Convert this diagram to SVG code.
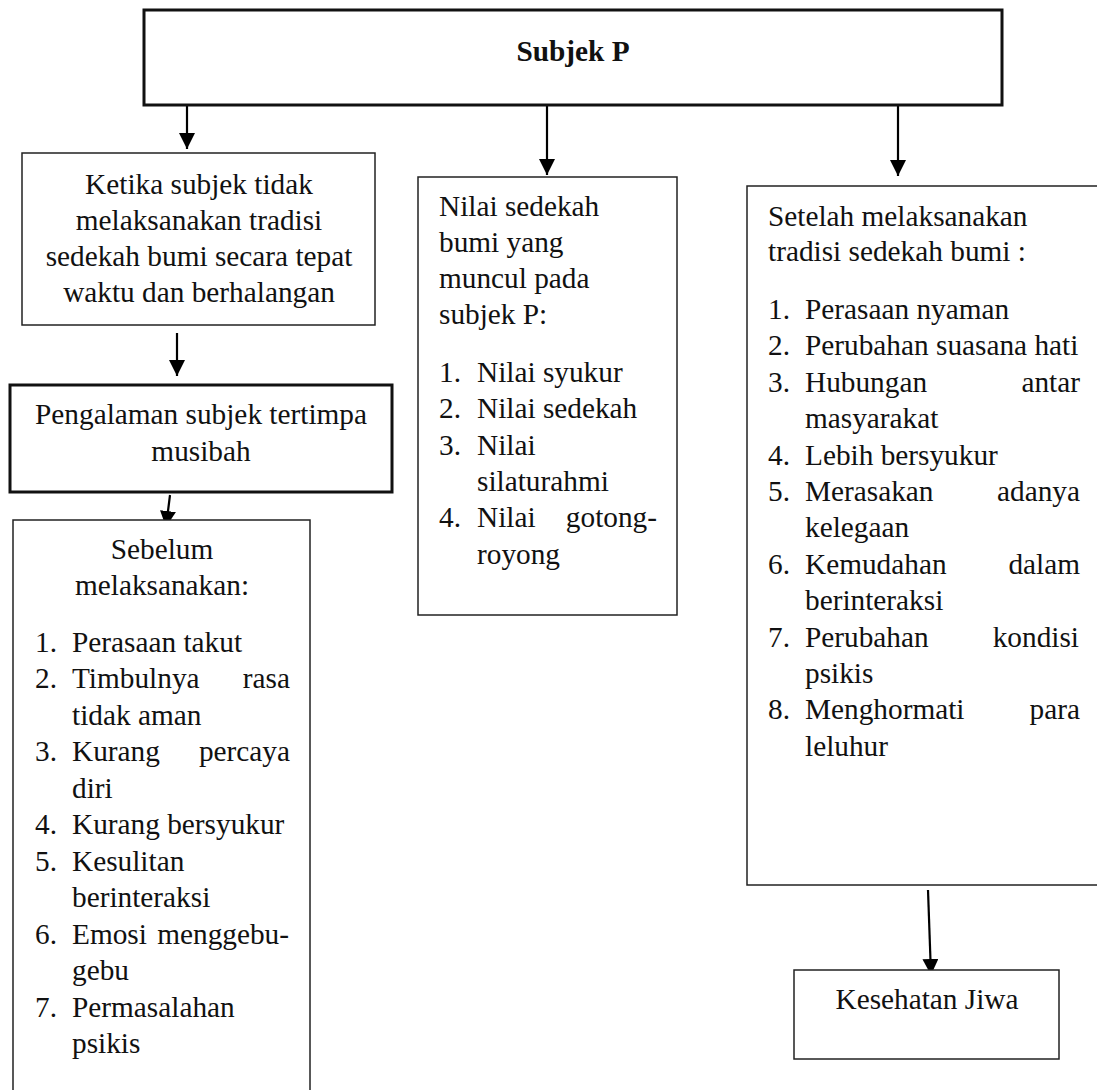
<svg xmlns="http://www.w3.org/2000/svg" width="1097" height="1090" viewBox="0 0 1097 1090">
<style>
.box{fill:#fff;stroke:#222;stroke-width:1.5}
.thick{stroke:#111;stroke-width:3}
.t{font-family:"Liberation Serif","Times New Roman",serif;font-size:29.3px;fill:#111}
.c{text-anchor:middle}
.e{text-anchor:end}
.b{font-weight:bold}
.con{stroke:#000;stroke-width:2.2;fill:none}
</style>
<defs>
<marker id="ah" markerUnits="userSpaceOnUse" markerWidth="16" markerHeight="16" refX="16" refY="8" orient="auto" viewBox="0 0 16 16">
<path d="M0,0 L16,8 L0,16 z" fill="#000"/>
</marker>
</defs>
<rect width="1097" height="1090" fill="#fff"/>
<g id="connectors">
<line class="con" x1="187" y1="105" x2="187" y2="149" marker-end="url(#ah)"/>
<line class="con" x1="547" y1="105" x2="547" y2="175" marker-end="url(#ah)"/>
<line class="con" x1="898" y1="105" x2="898" y2="176" marker-end="url(#ah)"/>
<line class="con" x1="177" y1="333" x2="177" y2="376" marker-end="url(#ah)"/>
<line class="con" x1="170" y1="495" x2="166" y2="527" marker-end="url(#ah)"/>
<line class="con" x1="928" y1="890" x2="931" y2="975" marker-end="url(#ah)"/>
</g>
<g id="subjek-p">
<rect class="box thick" x="144" y="10" width="858" height="95"/>
<text class="t c b" x="573" y="61">Subjek P</text>
</g>
<g id="ketika">
<rect class="box" x="22" y="153" width="353" height="172"/>
<text class="t c" x="199" y="194">Ketika subjek tidak</text>
<text class="t c" x="199" y="230">melaksanakan tradisi</text>
<text class="t c" x="199" y="266">sedekah bumi secara tepat</text>
<text class="t c" x="199" y="302">waktu dan berhalangan</text>
</g>
<g id="pengalaman">
<rect class="box thick" x="10" y="385" width="382" height="107"/>
<text class="t c" x="201" y="424">Pengalaman subjek tertimpa</text>
<text class="t c" x="201" y="461">musibah</text>
</g>
<g id="sebelum">
<rect class="box" x="13" y="520" width="297" height="600"/>
<text class="t c" x="162" y="559">Sebelum</text>
<text class="t c" x="162" y="595">melaksanakan:</text>
<text class="t" x="35" y="652">1.</text><text class="t" x="72" y="652">Perasaan takut</text>
<text class="t" x="35" y="688">2.</text><text class="t" x="72" y="688">Timbulnya</text><text class="t e" x="290" y="688">rasa</text>
<text class="t" x="72" y="725">tidak aman</text>
<text class="t" x="35" y="761">3.</text><text class="t" x="72" y="761">Kurang</text><text class="t e" x="290" y="761">percaya</text>
<text class="t" x="72" y="798">diri</text>
<text class="t" x="35" y="834">4.</text><text class="t" x="72" y="834">Kurang bersyukur</text>
<text class="t" x="35" y="871">5.</text><text class="t" x="72" y="871">Kesulitan</text>
<text class="t" x="72" y="907">berinteraksi</text>
<text class="t" x="35" y="944">6.</text><text class="t" x="72" y="944">Emosi</text><text class="t e" x="289" y="944">menggebu-</text>
<text class="t" x="72" y="980">gebu</text>
<text class="t" x="35" y="1017">7.</text><text class="t" x="72" y="1017">Permasalahan</text>
<text class="t" x="72" y="1053">psikis</text>
</g>
<g id="nilai">
<rect class="box" x="418" y="177" width="259" height="438"/>
<text class="t" x="439" y="216">Nilai sedekah</text>
<text class="t" x="439" y="252">bumi yang</text>
<text class="t" x="439" y="288">muncul pada</text>
<text class="t" x="439" y="324">subjek P:</text>
<text class="t" x="439" y="382">1.</text><text class="t" x="477" y="382">Nilai syukur</text>
<text class="t" x="439" y="418">2.</text><text class="t" x="477" y="418">Nilai sedekah</text>
<text class="t" x="439" y="455">3.</text><text class="t" x="477" y="455">Nilai</text>
<text class="t" x="477" y="491">silaturahmi</text>
<text class="t" x="439" y="527">4.</text><text class="t" x="477" y="527">Nilai</text><text class="t e" x="657" y="527">gotong-</text>
<text class="t" x="477" y="564">royong</text>
</g>
<g id="setelah">
<rect class="box" x="747" y="186" width="360" height="699"/>
<text class="t" x="768" y="226">Setelah melaksanakan</text>
<text class="t" x="768" y="261">tradisi sedekah bumi :</text>
<text class="t" x="768" y="319">1.</text><text class="t" x="805" y="319">Perasaan nyaman</text>
<text class="t" x="768" y="355">2.</text><text class="t" x="805" y="355">Perubahan suasana hati</text>
<text class="t" x="768" y="392">3.</text><text class="t" x="805" y="392">Hubungan</text><text class="t e" x="1080" y="392">antar</text>
<text class="t" x="805" y="428">masyarakat</text>
<text class="t" x="768" y="465">4.</text><text class="t" x="805" y="465">Lebih bersyukur</text>
<text class="t" x="768" y="501">5.</text><text class="t" x="805" y="501">Merasakan</text><text class="t e" x="1080" y="501">adanya</text>
<text class="t" x="805" y="537">kelegaan</text>
<text class="t" x="768" y="574">6.</text><text class="t" x="805" y="574">Kemudahan</text><text class="t e" x="1080" y="574">dalam</text>
<text class="t" x="805" y="610">berinteraksi</text>
<text class="t" x="768" y="647">7.</text><text class="t" x="805" y="647">Perubahan</text><text class="t e" x="1079" y="647">kondisi</text>
<text class="t" x="805" y="683">psikis</text>
<text class="t" x="768" y="719">8.</text><text class="t" x="805" y="719">Menghormati</text><text class="t e" x="1080" y="719">para</text>
<text class="t" x="805" y="756">leluhur</text>
</g>
<g id="kesehatan">
<rect class="box" x="794" y="970" width="265" height="89"/>
<text class="t c" x="927" y="1009">Kesehatan Jiwa</text>
</g>
</svg>
